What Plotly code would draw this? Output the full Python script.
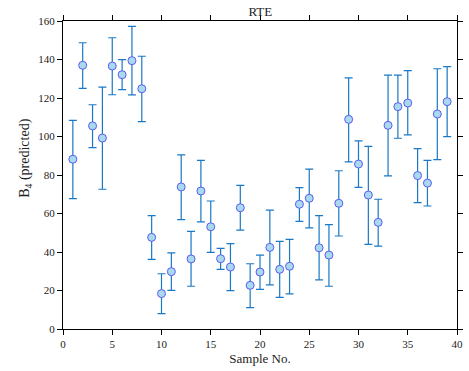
import plotly.graph_objects as go

samples = list(range(1, 40))
predicted = [88.2, 137.0, 105.5, 99.2, 136.6, 132.1, 139.4, 124.8, 47.6, 18.4,
             29.8, 73.8, 36.4, 71.7, 53.1, 36.5, 32.2, 63.0, 22.7, 29.6,
             42.4, 31.0, 32.6, 64.8, 67.9, 42.2, 38.4, 65.3, 108.9, 85.7,
             69.6, 55.4, 105.8, 115.5, 117.4, 79.7, 75.8, 111.7, 118.1]
upper = [108.4, 148.7, 116.5, 125.7, 151.3, 139.9, 157.2, 141.7, 58.9, 28.7,
         39.5, 90.5, 50.7, 87.6, 66.5, 41.9, 44.3, 74.6, 33.9, 38.4,
         61.8, 45.5, 46.6, 73.4, 83.1, 58.9, 54.2, 82.2, 130.5, 97.7,
         94.9, 67.4, 131.9, 131.9, 134.2, 93.7, 87.6, 135.2, 136.3]
lower = [67.7, 125.0, 94.2, 72.6, 121.7, 124.3, 121.6, 107.7, 36.2, 8.0,
         20.1, 56.8, 22.2, 55.7, 39.8, 31.0, 19.9, 51.4, 11.1, 20.6,
         22.9, 16.4, 18.2, 55.9, 52.5, 25.5, 22.2, 48.3, 86.8, 73.6,
         44.0, 43.1, 79.5, 99.1, 100.8, 65.6, 63.9, 88.0, 99.9]

err_plus = [u - p for u, p in zip(upper, predicted)]
err_minus = [p - l for p, l in zip(predicted, lower)]

x_ticks = [0, 5, 10, 15, 20, 25, 30, 35, 40]
y_ticks = [0, 20, 40, 60, 80, 100, 120, 140, 160]

font_family = "Liberation Serif, Times New Roman, serif"

fig = go.Figure()
fig.add_trace(go.Scatter(
    x=samples, y=predicted, mode="markers",
    marker=dict(size=8, color="#a9d9ec", line=dict(color="#5a5cf5", width=1)),
    error_y=dict(type="data", symmetric=False, array=err_plus, arrayminus=err_minus,
                 color="#1b78c4", thickness=1.2, width=4),
    showlegend=False,
))

axis_common = dict(
    showline=True, linecolor="black", linewidth=1.2, mirror="ticks",
    ticks="outside", ticklen=5, tickwidth=1.2, tickcolor="black",
    showgrid=False, zeroline=False, automargin=False,
    tickfont=dict(family=font_family, size=11, color="#222"),
)

fig.update_layout(
    width=469, height=371,
    margin=dict(l=63, r=12, t=21, b=42),
    paper_bgcolor="white", plot_bgcolor="white",
    font=dict(family=font_family, color="#222"),
    title=dict(text="RTE", x=0.555, xanchor="center", y=0.968, yanchor="middle",
               font=dict(family=font_family, size=13, color="#222")),
    xaxis=dict(range=[0, 40], tickvals=x_ticks,
               title=dict(text="Sample No.", font=dict(family=font_family, size=13), standoff=4),
               **axis_common),
    yaxis=dict(range=[0, 160], tickvals=y_ticks, **axis_common),
    annotations=[dict(
        text="B<sub>4</sub> (predicted)", textangle=-90, showarrow=False,
        xref="paper", yref="paper", x=-0.097, y=0.555,
        xanchor="center", yanchor="middle",
        font=dict(family=font_family, size=14, color="#222"),
    )],
)

fig.write_html("out.html",
               config={"displayModeBar": False},
               post_script="document.body.style.margin='0';document.body.style.overflow='hidden';")
